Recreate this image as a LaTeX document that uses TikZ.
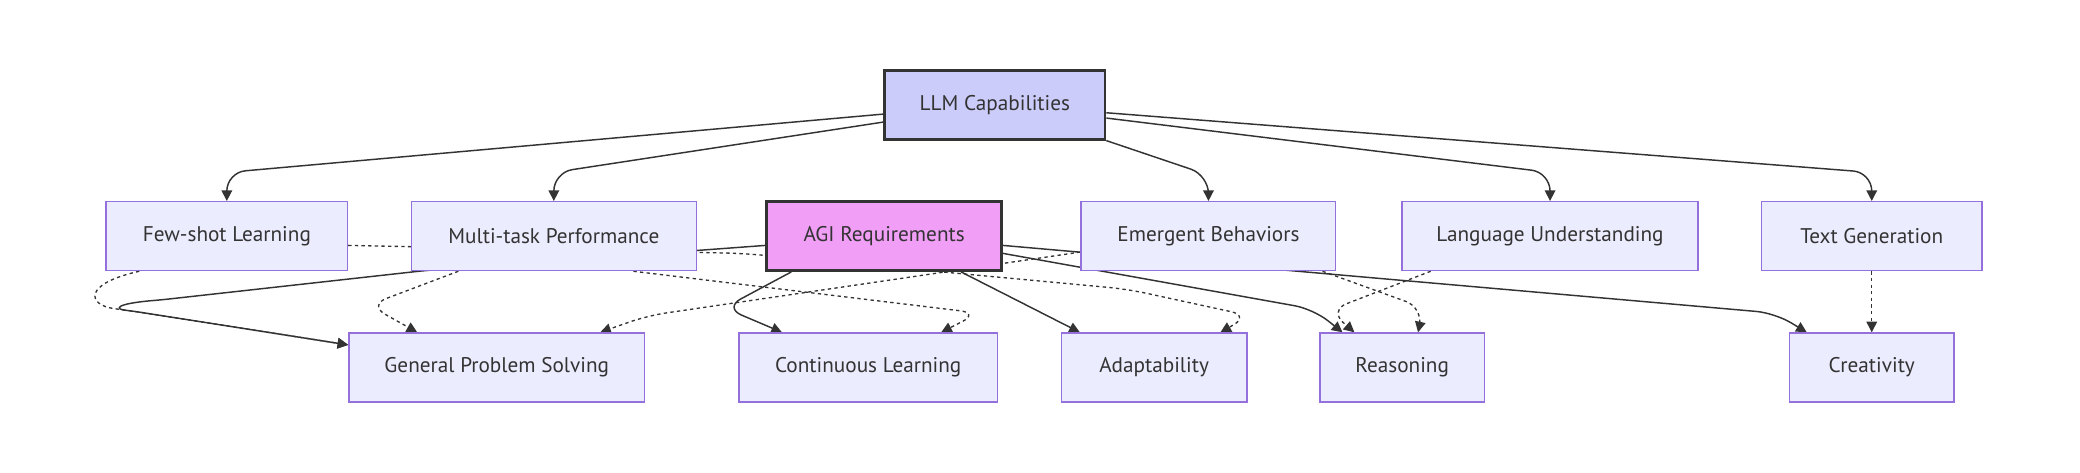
\documentclass[tikz,border=0pt]{standalone}
\usepackage{fontspec}
\setmainfont{PT Sans}
\usetikzlibrary{arrows.meta,backgrounds}
\definecolor{boxfill}{HTML}{ECECFF}
\definecolor{boxline}{HTML}{9370DB}
\definecolor{llmfill}{HTML}{CCCCFA}
\definecolor{agifill}{HTML}{F19EF6}
\definecolor{ink}{HTML}{333333}
\tikzset{
  box/.style={draw=boxline, fill=boxfill, line width=1pt, minimum height=52pt, inner sep=0pt, text=ink, font=\fontsize{16}{19}\selectfont},
  hub/.style={box, draw=ink, line width=2pt},
  flow/.style={draw=ink, line width=1.1pt, rounded corners=14pt, -{Triangle[length=8pt,width=8pt]}},
  dep/.style={flow, line width=1pt, dash pattern=on 2.5pt off 2.5pt}
}

\begin{document}
\begin{tikzpicture}[x=1pt,y=1pt]
\useasboundingbox (0,0) rectangle (1568,-356);
\node[hub, fill=llmfill, minimum width=166pt] (llm) at (750,-79) {LLM Capabilities};
\node[box, minimum width=182pt] (fsl) at (171,-178) {Few-shot Learning};
\node[box, minimum width=215pt] (mtp) at (417.5,-178) {Multi-task Performance};
\node[hub, fill=agifill, minimum width=177pt] (agi) at (666.5,-178) {AGI Requirements};
\node[box, minimum width=192pt] (emb) at (911,-178) {Emergent Behaviors};
\node[box, minimum width=223pt] (lun) at (1168.5,-178) {Language Understanding};
\node[box, minimum width=166pt] (tgn) at (1411,-178) {Text Generation};
\node[box, minimum width=223pt] (gps) at (374.5,-277) {General Problem Solving};
\node[box, minimum width=195pt] (cnl) at (654.5,-277) {Continuous Learning};
\node[box, minimum width=140pt] (ada) at (870,-277) {Adaptability};
\node[box, minimum width=124pt] (rea) at (1057,-277) {Reasoning};
\node[box, minimum width=124pt] (cre) at (1411,-277) {Creativity};

\begin{scope}[on background layer]
\draw[flow] ([yshift=-7pt]llm.west) -- (171,-130) -- (fsl.north);
\draw[flow] ([yshift=-13pt]llm.west) -- (417.5,-130) -- (mtp.north);
\draw[flow] (llm.south east) -- (911,-132) -- (emb.north);
\draw[flow] ([yshift=-10pt]llm.east) -- (1168.5,-130) -- (lun.north);
\draw[flow] ([yshift=-6pt]llm.east) -- (1411,-130) -- (tgn.north);

\draw[flow, rounded corners=6pt] ([yshift=-7pt]agi.west) -- (320,-204) -- (122,-226) .. controls (86,-229) and (87,-233) .. (100,-234.5) -- ([yshift=17pt]gps.west);
\draw[flow] ([xshift=-70pt]agi.south) -- (546,-232) -- ([xshift=-65pt]cnl.north);
\draw[flow] ([xshift=58pt]agi.south) -- ([xshift=-56pt]ada.north);
\draw[flow] ([yshift=-13pt]agi.east) -- (990,-233) -- ([xshift=-45pt]rea.north);
\draw[flow] ([yshift=-7pt]agi.east) -- (1338,-236) -- ([xshift=-49pt]cre.north);

\draw[dep] ([xshift=-66pt]fsl.south) .. controls (62,-214) and (66,-230) .. (100,-234.5) -- ([yshift=17pt]gps.west);
\draw[dep] ([yshift=-7pt]fsl.east) -- (560,-191) -- (850,-218) -- (942,-238) -- ([xshift=50pt]ada.north);
\draw[dep] ([xshift=-72pt]mtp.south) -- (278,-230) -- ([xshift=-60pt]gps.north);
\draw[dep] ([xshift=60pt]mtp.south) -- (738,-236) -- ([xshift=55pt]cnl.north);
\draw[dep] ([yshift=-12pt]emb.west) -- (488,-238) -- ([xshift=78pt]gps.north);
\draw[dep] ([xshift=86pt]emb.south) -- (1073,-232) -- ([xshift=12pt]rea.north);
\draw[dep] ([xshift=-90pt]lun.south) -- (1002,-234) -- ([xshift=-36pt]rea.north);
\draw[dep] (tgn) -- (cre);
\end{scope}
\end{tikzpicture}
\end{document}
